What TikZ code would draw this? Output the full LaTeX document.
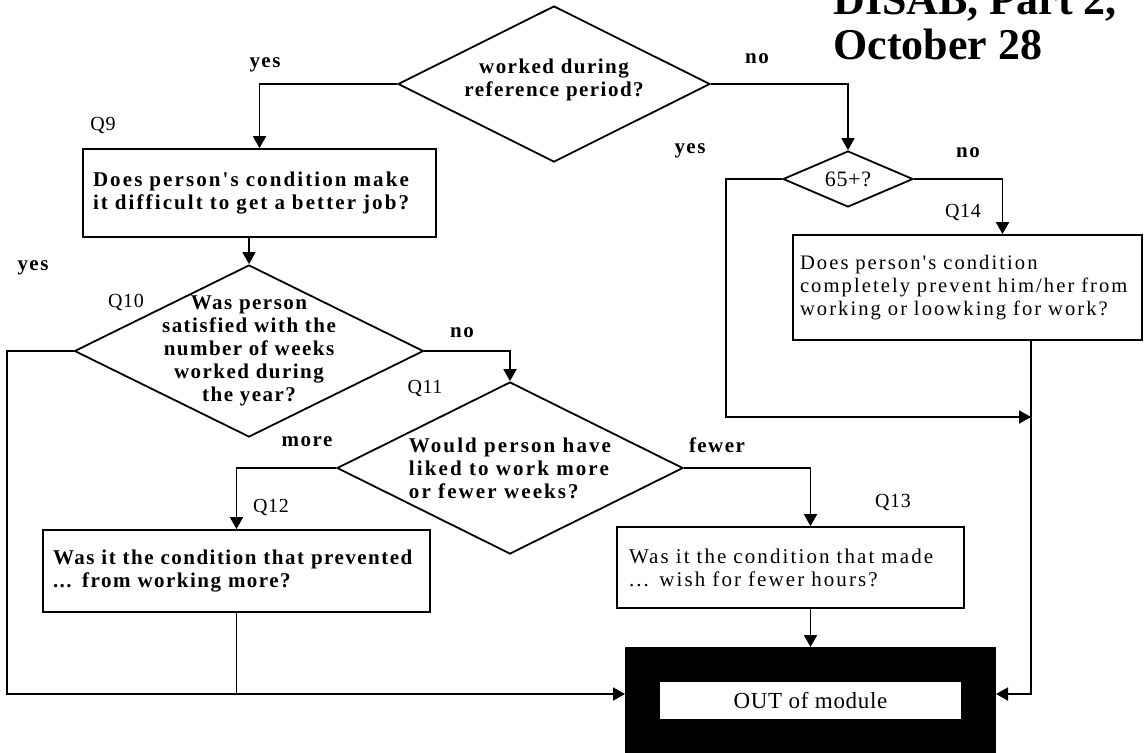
\documentclass[tikz,border=0pt]{standalone}
\usepackage{fontspec}
\setmainfont{Liberation Serif}
\newfontfamily\wideserif[LetterSpace=10]{Liberation Serif}
\newfontfamily\tightserif[LetterSpace=7]{Liberation Serif}
\newfontfamily\tagserif[LetterSpace=3]{Liberation Serif}
\usetikzlibrary{shapes.geometric, arrows.meta, positioning}
\tikzstyle{decision} = [draw, diamond, line width=0.9pt, inner sep=-30pt, align=center, font=\tightserif\fontsize{10.5}{11.5}\selectfont\bfseries]
\tikzstyle{question} = [draw, rectangle, line width=0.9pt, align=left, font=\wideserif\fontsize{10.5}{11.5}\selectfont]
\tikzstyle{answer} = [font=\tightserif\fontsize{10.5}{11.5}\selectfont\bfseries]
\tikzstyle{qlabel} = [font=\tagserif\fontsize{10}{12}\selectfont]
\tikzstyle{link} = [line width=0.9pt]
\tikzstyle{arrow} = [line width=0.9pt, -{Triangle[length=6pt,width=6.5pt]}]

\begin{document}
\begin{tikzpicture}[x=0.5pt, y=-0.5pt]
    \useasboundingbox (0,0) rectangle (1144,752);

    % Title
    \node[anchor=south west, inner sep=0pt, align=left, font=\fontsize{22}{22.5}\selectfont\bfseries] (title) at (833,60) {DISAB, Part 2,\\October 28};

    % Decisions
    \node[decision, minimum width=156pt, minimum height=78pt] (W) at (554,84) {worked during\\reference period?\\[-5pt]};
    \node[decision, minimum width=65pt, minimum height=28pt, font=\tagserif\fontsize{11}{12}\selectfont] (A) at (848,179) {65+?};
    \node[decision, minimum width=174.5pt, minimum height=86pt] (Q10) at (249,351) {Was person\\satisfied with the\\number of weeks\\worked during\\the year?};
    \node[decision, minimum width=173pt, minimum height=86pt, align=left, font=\wideserif\fontsize{10.5}{11.5}\selectfont\bfseries] (Q11) at (510,468) {Would person have\\liked to work more\\or fewer weeks?};

    % Questions
    \node[question, font=\wideserif\fontsize{10.5}{11.5}\selectfont\bfseries, minimum width=176.5pt, minimum height=44pt, inner xsep=5pt, text width=166.5pt] (Q9) at (259.5,193) {Does person's condition make\\it difficult to get a better job?};
    \node[question, font=\tightserif\fontsize{10.5}{11.5}\selectfont\bfseries, minimum width=193.5pt, minimum height=41pt, inner xsep=5pt, text width=183.5pt] (Q12) at (236.5,571) {Was it the condition that prevented\\... from working more?};
    \node[question, minimum width=173.5pt, minimum height=40.5pt, inner xsep=6pt, text width=161.5pt] (Q13) at (790.5,567.5) {Was it the condition that made\\... wish for fewer hours?};
    \node[question, font=\wideserif\fontsize{10.3}{11.7}\selectfont, minimum width=174.5pt, minimum height=52.5pt, inner xsep=3.5pt, text width=167.5pt] (Q14) at (967.5,287.5) {Does person's condition\\completely prevent him/her from\\working or loowking for work?};

    % Exit
    \node[draw=black, line width=17.5pt, fill=white, minimum width=168pt, minimum height=36pt, inner sep=0pt, font=\tagserif\fontsize{11.5}{12}\selectfont] (OUT) at (810.5,700.5) {OUT of module};

    % Branch labels
    \node[answer] (yesW) at (265,65) {yes};
    \node[answer] (noW) at (757,59) {no};
    \node[qlabel] (tQ9) at (103,125) {Q9};
    \node[answer] (yesQ10) at (33,268) {yes};
    \node[qlabel] (tQ10) at (126,302) {Q10};
    \node[answer] (noQ10) at (462,333) {no};
    \node[qlabel] (tQ11) at (425,388) {Q11};
    \node[answer] (moreQ11) at (307,442) {more};
    \node[answer] (fewerQ11) at (717,445) {fewer};
    \node[qlabel] (tQ12) at (271,507) {Q12};
    \node[qlabel] (tQ13) at (893,502) {Q13};
    \node[answer] (yesA) at (690,151) {yes};
    \node[answer] (noA) at (968,153) {no};
    \node[qlabel] (tQ14) at (963,212) {Q14};

    % Corners
    \coordinate (bl) at (7,694);
    \coordinate (br) at (1031,694);
    \coordinate (yb) at (726,417);

    % Edges
    \draw[arrow] (W.west) -| (Q9.north);
    \draw[arrow] (W.east) -| (A.north);
    \draw[arrow] (Q10.north |- Q9.south) -- (Q10.north);
    \draw[arrow] (Q10.east) -| (Q11.north);
    \draw[link] (Q10.west) -| (bl) -- (bl -| Q12.south);
    \draw[arrow] (Q11.west) -| (Q12.north);
    \draw[arrow] (Q11.east) -| (OUT.north |- Q13.north);
    \draw[arrow] (Q12.south) |- (bl -| OUT.west);
    \draw[arrow] (OUT.north |- Q13.south) -- (OUT.north);
    \draw[arrow] (A.east) -| ([xshift=17.5pt]Q14.north);
    \draw[arrow] (A.west) -| (yb) -- (yb -| br);
    \draw[arrow] (Q14.south -| br) -- (br) -- (br -| OUT.east);
\end{tikzpicture}
\end{document}
